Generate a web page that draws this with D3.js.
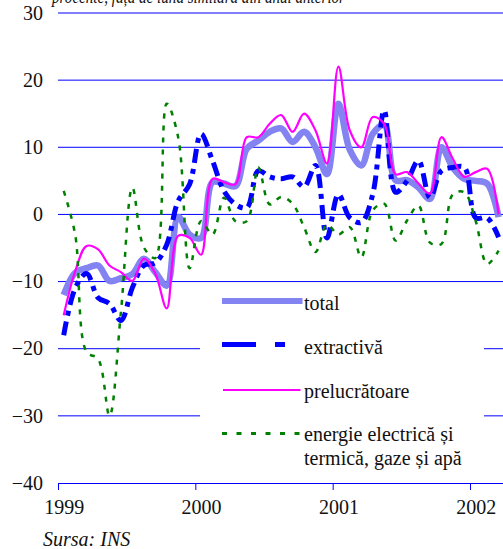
<!DOCTYPE html>
<html>
<head>
<meta charset="utf-8">
<script src="https://cdn.jsdelivr.net/npm/d3@7"></script>
<style>
	body { margin: 0; background: white; }
	svg text { fill: #111; }
</style>
</head>
<body>
<svg id="container" width="503" height="549"></svg>
<script>

// data: monthly, Jan 1999 .. Mar 2002 (% vs same month previous year)
const YEARS = ['1999', '2000', '2001', '2002'];
const Y_TICKS = [30, 20, 10, 0, -10, -20, -30, -40];
const SERIES = ['total', 'extractivă', 'prelucrătoare', 'energie electrică și|termică, gaze și apă'];
const SERIF = 'Liberation Serif, DejaVu Serif, Tinos, Noto Serif, Nimbus Roman, FreeSerif, serif';

var total = [-12, -8.7, -8, -7.6, -9.9, -9.5, -8.9, -6.6, -8.6, -10.6, -0.4, -3, -3.5,
	4.8, 4.6, 4.2, 9.8, 11, 12.3, 12.8, 10.8, 12.3, 10, 6, 16.5,
	9.6, 7.3, 12, 13.3, 5.1, 5.1, 4, 2.3, 10, 7, 5.3, 5, 4.6, -0.4];
var extractiva = [-18, -11, -8.8, -12.4, -13.3, -15.8, -10.9, -7.6, -7.2, -4.5, 2, 4.5, 12,
	8, 3.5, 1.5, 1, 6.5, 5.6, 5.3, 5.6, 4.1, 7.3, -3.5, 3,
	-0.5, -1.2, 3, 15.5, 3.3, 5, 8, 2.5, 6.5, 7, 7, -0.5, -0.5, -3.4];
var prelucratoare = [-15, -8.5, -4.7, -5.2, -7.6, -8.6, -9.9, -6.6, -8.8, -14, -3.2, -3.5, -6,
	5.3, 4.8, 4.5, 11.5, 11.5, 13.5, 14.8, 12.3, 15, 12.5, 7.6, 22,
	12.5, 10, 14.5, 13.5, 6, 6.3, 4.6, 3.1, 11.5, 8.3, 5.6, 6.3, 6.8, 0];
var energie = [3.5, -3, -20.5, -21.5, -30, -14.5, 4, -4.9, -6.5, 16.5, 11.5, -8, -1,
	-3, 2.5, -1, -1, 7, 1.5, 2.6, 1.6, -1.9, -5.6, -1.5, -3,
	-1.9, -6.4, 0.6, 1.6, -3.9, -0.9, 1.3, -4.2, -4.4, 3, 3.3, -1, -7.4, -5.4];

var svg = d3.select('#container');

// scales: x in months since Jan 1999, points sit mid-month
var x = d3.scaleLinear().domain([0, 36]).range([58, 470]);
var y = d3.scaleLinear().domain([-40, 30]).range([483, 13]);

// title line, mostly cut off at the top
svg.append('text')
	.attr('x', 52)
	.attr('y', 3)
	.attr('textLength', 293)
	.attr('lengthAdjust', 'spacingAndGlyphs')
	.style('font-family', SERIF)
	.style('font-size', '18px')
	.style('font-style', 'italic')
	.text('procente, față de luna similară din anul anterior');

// gridlines
svg.append('g').selectAll('line')
	.data(Y_TICKS.filter(function(d) { return d > -40; }))
	.enter()
	.append('line')
	.attr('x1', 58).attr('x2', 503)
	.attr('y1', function(d) { return y(d); })
	.attr('y2', function(d) { return y(d); })
	.style('stroke', '#0000ff')
	.style('stroke-width', 1);

// y labels
svg.append('g').selectAll('text')
	.data(Y_TICKS)
	.enter()
	.append('text')
	.attr('x', 43)
	.attr('y', function(d) { return y(d) + 6.7; })
	.attr('text-anchor', 'end')
	.style('font-family', SERIF)
	.style('font-size', '20px')
	.text(function(d) { return d < 0 ? '\u2212' + (-d) : d; });

// x axis
var xAxis = d3.axisBottom(x)
	.tickValues([0, 12, 24, 36])
	.tickSize(7)
	.tickSizeOuter(0)
	.tickFormat(function(d, i) { return YEARS[i]; });
var gx = svg.append('g')
	.attr('transform', 'translate(0,' + y(-40) + ')')
	.call(xAxis);
gx.select('.domain').attr('d', 'M58,0.5H503').style('stroke', '#0000ff');
gx.selectAll('.tick line').style('stroke', '#0000ff');
gx.selectAll('.tick text')
	.attr('x', x(0.5) - x(0))
	.attr('y', 17)
	.style('font-family', SERIF)
	.style('font-size', '20px')
	.style('fill', '#111');

// series
var line = d3.line()
	.x(function(d, i) { return x(i + 0.5); })
	.y(function(d) { return y(d); })
	.curve(d3.curveCatmullRom.alpha(0.5));

var styles = [
	{ data: total, color: '#8383f2', width: 6.5, dash: null },
	{ data: extractiva, color: '#0000ff', width: 5, dash: '14,6,5,6' },
	{ data: prelucratoare, color: '#ff00ff', width: 2.2, dash: null },
	{ data: energie, color: '#008000', width: 2.5, dash: '5,7' }
];

svg.append('g').selectAll('path')
	.data(styles)
	.enter()
	.append('path')
	.attr('d', function(d) { return line(d.data); })
	.style('fill', 'none')
	.style('stroke', function(d) { return d.color; })
	.style('stroke-width', function(d) { return d.width; })
	.style('stroke-dasharray', function(d) { return d.dash; });

// legend
var legend = svg.append('g');
legend.append('rect')
	.attr('x', 200).attr('y', 286)
	.attr('width', 284).attr('height', 190)
	.style('fill', 'white');

var legendItems = [
	{ y: 301, x2: 302.5, color: '#8383f2', width: 6, dash: null, ty: [310] },
	{ y: 344.5, x2: 285, color: '#0000ff', width: 5, dash: '34,19,10,19', ty: [354] },
	{ y: 390, x2: 300.5, color: '#ff00ff', width: 2.2, dash: null, ty: [398] },
	{ y: 433.5, x2: 300.5, color: '#008000', width: 3, dash: '5,9.5', ty: [441, 465] }
];

legendItems.forEach(function(d, i) {
	legend.append('line')
		.attr('x1', i == 2 ? 223 : 222).attr('x2', d.x2)
		.attr('y1', d.y).attr('y2', d.y)
		.style('stroke', d.color)
		.style('stroke-width', d.width)
		.style('stroke-dasharray', d.dash);
	SERIES[i].split('|').forEach(function(t, j) {
		legend.append('text')
			.attr('x', 304)
			.attr('y', d.ty[j])
			.style('font-family', SERIF)
			.style('font-size', '20px')
			.text(t);
	});
});

// source
svg.append('text')
	.attr('x', 43)
	.attr('y', 546)
	.style('font-family', SERIF)
	.style('font-size', '20px')
	.style('font-style', 'italic')
	.text('Sursa: INS');

</script>
</body>
</html>
